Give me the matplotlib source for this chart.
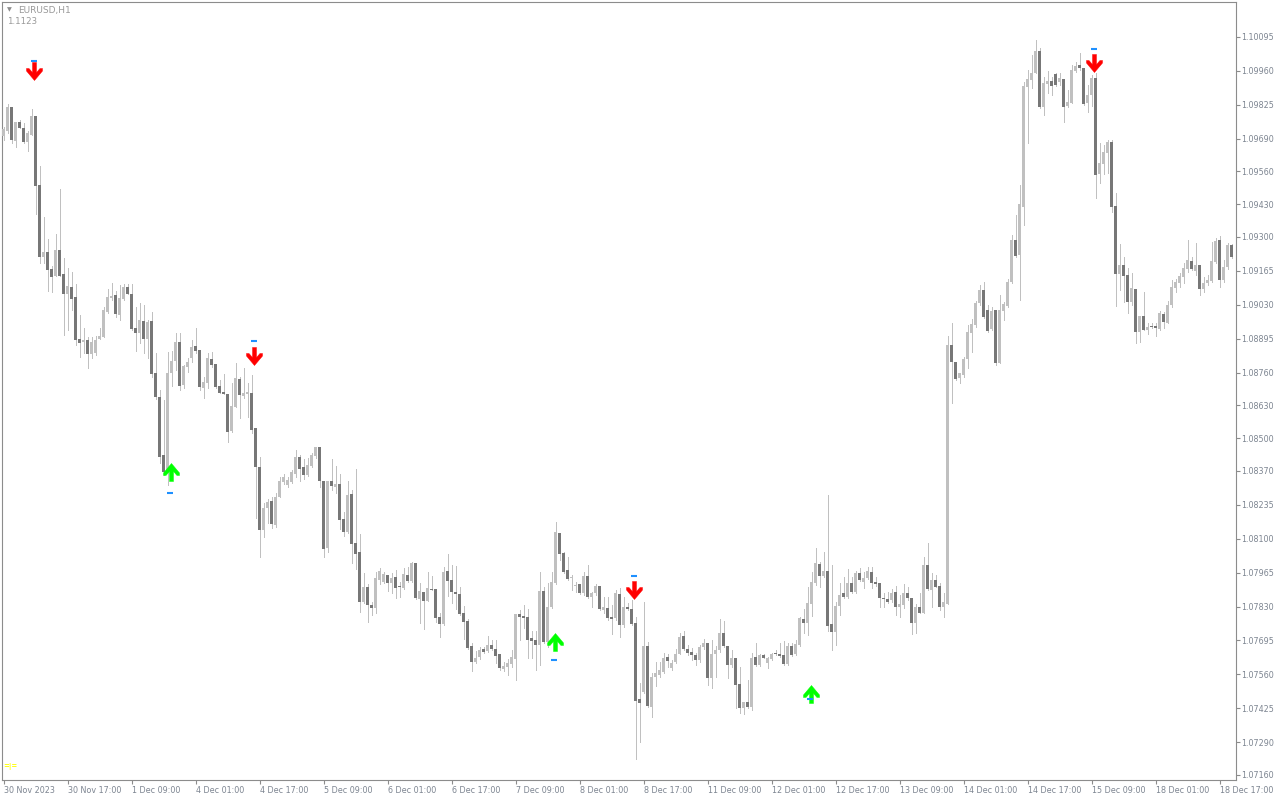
import numpy as np
import matplotlib.pyplot as plt
from matplotlib.path import Path

plt.rcParams['font.family'] = ['DejaVu Sans']

# EURUSD H1, one candle per hour from 30 Nov 2023
opens = [
    1.09701, 1.09721, 1.09816, 1.09681, 1.09757, 1.09733, 1.09677, 1.09705, 1.09781, 1.09506,
    1.09220, 1.09240, 1.09172, 1.09144, 1.09248, 1.09152, 1.09073, 1.09101, 1.09061, 1.08894,
    1.08882, 1.08890, 1.08834, 1.08838, 1.08894, 1.08902, 1.09001, 1.09057, 1.09069, 1.08989,
    1.09053, 1.09101, 1.09073, 1.08938, 1.08918, 1.08965, 1.08894, 1.08965, 1.08759, 1.08663,
    1.08432, 1.08373, 1.08759, 1.08806, 1.08882, 1.08711, 1.08782, 1.08818, 1.08866, 1.08850,
    1.08699, 1.08719, 1.08814, 1.08794, 1.08707, 1.08683, 1.08675, 1.08528, 1.08623, 1.08735,
    1.08667, 1.08675, 1.08679, 1.08540, 1.08385, 1.08134, 1.08222, 1.08250, 1.08154, 1.08265,
    1.08325, 1.08313, 1.08325, 1.08357, 1.08425, 1.08385, 1.08353, 1.08389, 1.08428, 1.08464,
    1.08329, 1.08063, 1.08329, 1.08305, 1.08317, 1.08178, 1.08126, 1.08277, 1.08082, 1.08047,
    1.07848, 1.07908, 1.07836, 1.07824, 1.07935, 1.07927, 1.07955, 1.07923, 1.07947, 1.07911,
    1.07904, 1.07955, 1.07931, 1.08003, 1.07860, 1.07888, 1.07852, 1.07900, 1.07900, 1.07788,
    1.07760, 1.07971, 1.07935, 1.07888, 1.07880, 1.07804, 1.07772, 1.07673, 1.07609, 1.07629,
    1.07661, 1.07653, 1.07677, 1.07661, 1.07641, 1.07581, 1.07589, 1.07601, 1.07621, 1.07800,
    1.07792, 1.07788, 1.07705, 1.07697, 1.07677, 1.07892, 1.07689, 1.07828, 1.07923, 1.08122,
    1.08043, 1.07975, 1.07943, 1.07911, 1.07919, 1.07884, 1.07951, 1.07868, 1.07884, 1.07911,
    1.07816, 1.07824, 1.07788, 1.07784, 1.07880, 1.07756, 1.07828, 1.07820, 1.07764, 1.07462,
    1.07490, 1.07673, 1.07430, 1.07549, 1.07558, 1.07569, 1.07629, 1.07585, 1.07609, 1.07641,
    1.07713, 1.07661, 1.07649, 1.07637, 1.07617, 1.07669, 1.07685, 1.07546, 1.07641, 1.07657,
    1.07725, 1.07673, 1.07597, 1.07625, 1.07522, 1.07426, 1.07450, 1.07430, 1.07629, 1.07597,
    1.07637, 1.07605, 1.07621, 1.07645, 1.07641, 1.07637, 1.07601, 1.07673, 1.07641, 1.07677,
    1.07780, 1.07764, 1.07840, 1.07923, 1.07999, 1.07951, 1.07971, 1.07760, 1.07729, 1.07832,
    1.07884, 1.07868, 1.07923, 1.07888, 1.07963, 1.07927, 1.07943, 1.07967, 1.07927, 1.07923,
    1.07864, 1.07860, 1.07856, 1.07888, 1.07828, 1.07836, 1.07884, 1.07864, 1.07764, 1.07828,
    1.07804, 1.07995, 1.07896, 1.07935, 1.07911, 1.07828, 1.07840, 1.08870, 1.08802, 1.08739,
    1.08751, 1.08814, 1.08918, 1.08949, 1.09037, 1.09089, 1.09009, 1.08934, 1.09009, 1.08798,
    1.09005, 1.09025, 1.09120, 1.09288, 1.09228, 1.09419, 1.09896, 1.09924, 1.09952, 1.10039,
    1.09816, 1.09908, 1.09920, 1.09948, 1.09916, 1.09928, 1.09820, 1.09832, 1.09960, 1.09983,
    1.09972, 1.09832, 1.09864, 1.09932, 1.09550, 1.09590, 1.09634, 1.09677, 1.09423, 1.09152,
    1.09188, 1.09148, 1.09041, 1.09093, 1.08922, 1.08985, 1.08930, 1.08945, 1.08945, 1.08934,
    1.08993, 1.08957, 1.09029, 1.09097, 1.09117, 1.09140, 1.09172, 1.09204, 1.09164, 1.09188,
    1.09093, 1.09117, 1.09124, 1.09200, 1.09288, 1.09128, 1.09180, 1.09268,
]
highs = [
    1.09737, 1.09828, 1.09816, 1.09757, 1.09765, 1.09753, 1.09721, 1.09809, 1.09781, 1.09582,
    1.09379, 1.09291, 1.09184, 1.09311, 1.09490, 1.09216, 1.09176, 1.09160, 1.09113, 1.08989,
    1.08938, 1.08902, 1.08902, 1.08906, 1.08938, 1.09021, 1.09093, 1.09117, 1.09085, 1.09109,
    1.09113, 1.09113, 1.09113, 1.09021, 1.09037, 1.09029, 1.08969, 1.09001, 1.08838, 1.08691,
    1.08651, 1.08842, 1.08846, 1.08918, 1.08918, 1.08790, 1.08818, 1.08890, 1.08938, 1.08850,
    1.08743, 1.08838, 1.08842, 1.08794, 1.08731, 1.08755, 1.08675, 1.08719, 1.08798, 1.08743,
    1.08778, 1.08719, 1.08751, 1.08540, 1.08425, 1.08242, 1.08257, 1.08265, 1.08281, 1.08345,
    1.08357, 1.08345, 1.08373, 1.08452, 1.08432, 1.08417, 1.08421, 1.08440, 1.08464, 1.08464,
    1.08329, 1.08329, 1.08417, 1.08389, 1.08357, 1.08206, 1.08329, 1.08293, 1.08377, 1.08118,
    1.07963, 1.07919, 1.07848, 1.07967, 1.07983, 1.07967, 1.07955, 1.07963, 1.07975, 1.07927,
    1.07983, 1.07987, 1.08007, 1.08003, 1.07923, 1.07888, 1.07967, 1.07951, 1.07900, 1.07804,
    1.07987, 1.08039, 1.07995, 1.07991, 1.07908, 1.07832, 1.07780, 1.07685, 1.07653, 1.07669,
    1.07669, 1.07713, 1.07697, 1.07697, 1.07641, 1.07609, 1.07621, 1.07657, 1.07800, 1.07816,
    1.07836, 1.07820, 1.07733, 1.07733, 1.07967, 1.07908, 1.07923, 1.07967, 1.08166, 1.08122,
    1.08047, 1.08027, 1.07955, 1.07927, 1.07919, 1.07967, 1.07995, 1.07888, 1.07919, 1.07911,
    1.07868, 1.07868, 1.07836, 1.07896, 1.07904, 1.07868, 1.07844, 1.07856, 1.07788, 1.07526,
    1.07848, 1.07689, 1.07565, 1.07609, 1.07609, 1.07645, 1.07641, 1.07617, 1.07661, 1.07725,
    1.07733, 1.07677, 1.07665, 1.07645, 1.07677, 1.07701, 1.07685, 1.07697, 1.07673, 1.07780,
    1.07772, 1.07673, 1.07657, 1.07625, 1.07589, 1.07450, 1.07538, 1.07645, 1.07685, 1.07641,
    1.07641, 1.07629, 1.07645, 1.07657, 1.07685, 1.07693, 1.07685, 1.07685, 1.07697, 1.07788,
    1.07820, 1.07908, 1.07967, 1.08063, 1.08007, 1.08047, 1.08273, 1.07995, 1.07848, 1.07923,
    1.07947, 1.07979, 1.07947, 1.07971, 1.07983, 1.07967, 1.07987, 1.07987, 1.07947, 1.07923,
    1.07884, 1.07888, 1.07900, 1.07911, 1.07876, 1.07919, 1.07908, 1.07864, 1.07840, 1.07884,
    1.08027, 1.08083, 1.07963, 1.07955, 1.07923, 1.07884, 1.08906, 1.08957, 1.08802, 1.08759,
    1.08822, 1.08949, 1.08973, 1.09045, 1.09109, 1.09120, 1.09029, 1.09021, 1.09009, 1.09069,
    1.09041, 1.09132, 1.09307, 1.09387, 1.09506, 1.09916, 1.09964, 1.10023, 1.10083, 1.10051,
    1.09936, 1.09960, 1.09936, 1.09952, 1.09952, 1.09928, 1.09884, 1.09983, 1.09995, 1.10031,
    1.09972, 1.09904, 1.09944, 1.09952, 1.09673, 1.09665, 1.09685, 1.09685, 1.09474, 1.09272,
    1.09220, 1.09176, 1.09156, 1.09093, 1.08985, 1.09081, 1.08957, 1.08957, 1.08957, 1.09005,
    1.09001, 1.09045, 1.09128, 1.09132, 1.09156, 1.09196, 1.09288, 1.09220, 1.09276, 1.09188,
    1.09140, 1.09148, 1.09280, 1.09295, 1.09303, 1.09208, 1.09276, 1.09272,
]
lows = [
    1.09685, 1.09713, 1.09673, 1.09657, 1.09733, 1.09673, 1.09641, 1.09705, 1.09391, 1.09196,
    1.09196, 1.09085, 1.09081, 1.09144, 1.09144, 1.08910, 1.08930, 1.09009, 1.08870, 1.08822,
    1.08838, 1.08778, 1.08818, 1.08830, 1.08894, 1.08902, 1.08997, 1.09049, 1.08981, 1.08969,
    1.09049, 1.09073, 1.08930, 1.08846, 1.08878, 1.08838, 1.08818, 1.08743, 1.08655, 1.08401,
    1.08353, 1.08313, 1.08707, 1.08771, 1.08691, 1.08699, 1.08763, 1.08802, 1.08838, 1.08691,
    1.08659, 1.08699, 1.08782, 1.08699, 1.08679, 1.08675, 1.08484, 1.08524, 1.08623, 1.08580,
    1.08659, 1.08584, 1.08520, 1.08182, 1.08027, 1.08106, 1.08162, 1.08142, 1.08146, 1.08265,
    1.08317, 1.08305, 1.08321, 1.08345, 1.08329, 1.08337, 1.08349, 1.08385, 1.08421, 1.08305,
    1.08027, 1.08047, 1.08293, 1.08281, 1.08138, 1.08110, 1.08122, 1.08003, 1.07979, 1.07808,
    1.07844, 1.07768, 1.07796, 1.07804, 1.07919, 1.07923, 1.07892, 1.07884, 1.07864, 1.07868,
    1.07900, 1.07927, 1.07927, 1.07860, 1.07764, 1.07740, 1.07852, 1.07896, 1.07768, 1.07709,
    1.07756, 1.07872, 1.07844, 1.07820, 1.07796, 1.07701, 1.07661, 1.07573, 1.07605, 1.07621,
    1.07645, 1.07649, 1.07657, 1.07605, 1.07577, 1.07573, 1.07558, 1.07589, 1.07538, 1.07697,
    1.07744, 1.07625, 1.07625, 1.07577, 1.07597, 1.07685, 1.07669, 1.07824, 1.07919, 1.08015,
    1.07963, 1.07935, 1.07896, 1.07888, 1.07880, 1.07876, 1.07864, 1.07828, 1.07876, 1.07816,
    1.07804, 1.07776, 1.07721, 1.07776, 1.07709, 1.07748, 1.07816, 1.07756, 1.07223, 1.07291,
    1.07486, 1.07430, 1.07390, 1.07514, 1.07549, 1.07565, 1.07589, 1.07577, 1.07605, 1.07641,
    1.07657, 1.07637, 1.07617, 1.07597, 1.07609, 1.07661, 1.07518, 1.07506, 1.07549, 1.07649,
    1.07669, 1.07546, 1.07589, 1.07426, 1.07406, 1.07402, 1.07426, 1.07418, 1.07593, 1.07593,
    1.07625, 1.07585, 1.07617, 1.07637, 1.07629, 1.07597, 1.07597, 1.07633, 1.07637, 1.07673,
    1.07725, 1.07717, 1.07792, 1.07915, 1.07908, 1.07947, 1.07733, 1.07657, 1.07677, 1.07796,
    1.07864, 1.07864, 1.07884, 1.07884, 1.07931, 1.07904, 1.07939, 1.07904, 1.07911, 1.07828,
    1.07828, 1.07844, 1.07848, 1.07796, 1.07788, 1.07824, 1.07856, 1.07721, 1.07725, 1.07804,
    1.07804, 1.07896, 1.07828, 1.07907, 1.07816, 1.07788, 1.07840, 1.08639, 1.08731, 1.08719,
    1.08743, 1.08778, 1.08842, 1.08942, 1.09029, 1.08977, 1.08922, 1.08930, 1.08790, 1.08798,
    1.08969, 1.09021, 1.09117, 1.09220, 1.09049, 1.09347, 1.09673, 1.09892, 1.09952, 1.09812,
    1.09785, 1.09872, 1.09864, 1.09900, 1.09904, 1.09757, 1.09816, 1.09832, 1.09956, 1.09964,
    1.09824, 1.09797, 1.09820, 1.09455, 1.09514, 1.09550, 1.09554, 1.09399, 1.09025, 1.09089,
    1.09041, 1.08997, 1.09029, 1.08878, 1.08882, 1.08930, 1.08914, 1.08938, 1.08906, 1.08930,
    1.08938, 1.08957, 1.09021, 1.09081, 1.09101, 1.09117, 1.09160, 1.09168, 1.09148, 1.09069,
    1.09081, 1.09109, 1.09120, 1.09196, 1.09101, 1.09120, 1.09172, 1.09216,
]
closes = [
    1.09729, 1.09816, 1.09685, 1.09757, 1.09733, 1.09677, 1.09713, 1.09781, 1.09502, 1.09220,
    1.09240, 1.09168, 1.09140, 1.09248, 1.09144, 1.09073, 1.09105, 1.09053, 1.08890, 1.08878,
    1.08890, 1.08834, 1.08882, 1.08890, 1.08906, 1.09009, 1.09061, 1.09065, 1.08993, 1.09057,
    1.09101, 1.09073, 1.08934, 1.08918, 1.08969, 1.08894, 1.08961, 1.08755, 1.08663, 1.08425,
    1.08365, 1.08759, 1.08806, 1.08882, 1.08707, 1.08786, 1.08802, 1.08862, 1.08846, 1.08703,
    1.08723, 1.08818, 1.08790, 1.08703, 1.08679, 1.08675, 1.08524, 1.08627, 1.08739, 1.08671,
    1.08679, 1.08683, 1.08532, 1.08385, 1.08134, 1.08222, 1.08246, 1.08158, 1.08265, 1.08329,
    1.08345, 1.08333, 1.08365, 1.08425, 1.08377, 1.08353, 1.08393, 1.08432, 1.08464, 1.08329,
    1.08059, 1.08329, 1.08309, 1.08317, 1.08174, 1.08126, 1.08273, 1.08079, 1.08039, 1.07848,
    1.07908, 1.07836, 1.07824, 1.07943, 1.07971, 1.07959, 1.07923, 1.07943, 1.07904, 1.07908,
    1.07959, 1.07931, 1.08003, 1.07864, 1.07892, 1.07852, 1.07904, 1.07896, 1.07784, 1.07760,
    1.07967, 1.07931, 1.07888, 1.07880, 1.07800, 1.07768, 1.07665, 1.07609, 1.07625, 1.07657,
    1.07649, 1.07677, 1.07661, 1.07633, 1.07585, 1.07593, 1.07605, 1.07629, 1.07800, 1.07788,
    1.07784, 1.07697, 1.07693, 1.07677, 1.07892, 1.07689, 1.07828, 1.07927, 1.08126, 1.08039,
    1.07967, 1.07939, 1.07947, 1.07915, 1.07884, 1.07951, 1.07868, 1.07884, 1.07911, 1.07820,
    1.07828, 1.07784, 1.07780, 1.07884, 1.07756, 1.07828, 1.07820, 1.07760, 1.07454, 1.07446,
    1.07673, 1.07434, 1.07549, 1.07565, 1.07577, 1.07625, 1.07613, 1.07605, 1.07641, 1.07709,
    1.07661, 1.07645, 1.07637, 1.07617, 1.07669, 1.07685, 1.07546, 1.07641, 1.07657, 1.07725,
    1.07673, 1.07597, 1.07625, 1.07518, 1.07426, 1.07450, 1.07430, 1.07625, 1.07597, 1.07637,
    1.07625, 1.07625, 1.07641, 1.07641, 1.07633, 1.07601, 1.07673, 1.07637, 1.07681, 1.07784,
    1.07764, 1.07844, 1.07927, 1.08003, 1.07951, 1.07971, 1.07752, 1.07729, 1.07832, 1.07876,
    1.07868, 1.07923, 1.07888, 1.07963, 1.07935, 1.07943, 1.07971, 1.07923, 1.07919, 1.07864,
    1.07860, 1.07848, 1.07884, 1.07828, 1.07840, 1.07884, 1.07864, 1.07764, 1.07828, 1.07804,
    1.07995, 1.07900, 1.07935, 1.07907, 1.07828, 1.07848, 1.08870, 1.08802, 1.08735, 1.08759,
    1.08814, 1.08922, 1.08953, 1.09037, 1.09089, 1.08981, 1.08926, 1.09005, 1.08798, 1.09009,
    1.09033, 1.09120, 1.09288, 1.09224, 1.09431, 1.09900, 1.09928, 1.09952, 1.10039, 1.09816,
    1.09912, 1.09920, 1.09900, 1.09904, 1.09932, 1.09816, 1.09836, 1.09964, 1.09980, 1.09972,
    1.09828, 1.09864, 1.09932, 1.09546, 1.09594, 1.09637, 1.09677, 1.09419, 1.09152, 1.09188,
    1.09144, 1.09041, 1.09097, 1.08922, 1.08985, 1.08930, 1.08942, 1.08942, 1.08938, 1.08997,
    1.08961, 1.09029, 1.09101, 1.09120, 1.09144, 1.09176, 1.09208, 1.09172, 1.09188, 1.09093,
    1.09117, 1.09128, 1.09204, 1.09284, 1.09128, 1.09180, 1.09268, 1.09220,
]

# indicator arrows: bar index, arrow level and the small blue mark
sell_bars = [7, 62, 157, 272]
sell_arrow = [1.09958, 1.08826, 1.07896, 1.09993]
sell_mark = [1.09999, 1.08886, 1.07951, 1.10047]
buy_bars = [41, 137, 201]
buy_arrow = [1.08363, 1.07687, 1.07484]
buy_mark = [1.08281, 1.07617, 1.07462]

price_ticks = [1.10095, 1.09960, 1.09825, 1.09690, 1.09560, 1.09430, 1.09300, 1.09165,
               1.09030, 1.08895, 1.08760, 1.08630, 1.08500, 1.08370, 1.08235, 1.08100,
               1.07965, 1.07830, 1.07695, 1.07560, 1.07425, 1.07290, 1.07160]
time_labels = ['30 Nov 2023', '30 Nov 17:00', '1 Dec 09:00', '4 Dec 01:00', '4 Dec 17:00',
               '5 Dec 09:00', '6 Dec 01:00', '6 Dec 17:00', '7 Dec 09:00', '8 Dec 01:00',
               '8 Dec 17:00', '11 Dec 09:00', '12 Dec 01:00', '12 Dec 17:00', '13 Dec 09:00',
               '14 Dec 01:00', '14 Dec 17:00', '15 Dec 09:00', '18 Dec 01:00', '18 Dec 17:00']

LIGHT = '#c0c0c0'
DARK = '#777777'
FRAME = '#8c8c8c'
TXT = '#7d8591'

o = np.array(opens)
h = np.array(highs)
l = np.array(lows)
c = np.array(closes)
x = np.arange(len(c))
up = c >= o

fig = plt.figure(figsize=(12.8, 8), dpi=100)
fig.patch.set_facecolor('white')
ax = fig.add_axes([2 / 1280, 20 / 800, 1234 / 1280, 778 / 800])
ax.set_facecolor('white')

# wicks then bodies (a doji still gets one pixel)
ax.vlines(x, l, h, color=LIGHT, lw=0.7, antialiased=False, zorder=2)
bottom = np.minimum(o, c)
height = np.maximum(np.abs(c - o), 0.00004)
ax.bar(x[up], height[up], bottom=bottom[up], width=0.72, color=LIGHT,
       lw=0, antialiased=False, zorder=3)
ax.bar(x[~up], height[~up], bottom=bottom[~up], width=0.72, color=DARK,
       lw=0, antialiased=False, zorder=3)

# thick arrow markers like the MT4 wingdings arrows
down_verts = [(-2, 9), (2, 9), (2, -1), (5.5, 3), (8, 3), (8, 0.5), (0, -9),
              (-8, 0.5), (-8, 3), (-5.5, 3), (-2, -1), (-2, 9)]
down_arrow = Path(down_verts, closed=True)
up_arrow = Path([(vx, -vy) for vx, vy in down_verts], closed=True)

sx = np.array(sell_bars) + 0.65
bx = np.array(buy_bars) + 0.8
ax.plot(sx, sell_arrow, ls='none', marker=down_arrow, ms=13, mfc='#ff0000',
        mec='#ff0000', mew=0.3, zorder=5)
ax.plot(bx, buy_arrow, ls='none', marker=up_arrow, ms=13, mfc='#00ff00',
        mec='#00ff00', mew=0.3, zorder=5)
ax.plot(np.array(sell_bars) + 0.5, sell_mark, ls='none', marker='_', ms=3.8,
        mew=1.5, color='#1e90ff', zorder=6)
ax.plot(np.array(buy_bars) + 0.5, buy_mark, ls='none', marker='_', ms=3.8,
        mew=1.5, color='#1e90ff', zorder=6)

ax.set_xlim(-0.375, 308.125)
ax.set_ylim(1.071400, 1.102341)

ax.yaxis.tick_right()
ax.set_yticks(price_ticks)
ax.set_yticklabels([f'{p:.5f}' for p in price_ticks])
ax.set_xticks(np.arange(0, len(c), 16))
ax.set_xticklabels(time_labels)
for lbl in ax.get_xticklabels():
    lbl.set_horizontalalignment('left')
ax.tick_params(axis='both', colors=FRAME, labelcolor=TXT, labelsize=5.8,
               length=3, width=0.8, direction='out')
ax.tick_params(axis='x', pad=1.2)
ax.tick_params(axis='y', pad=1.0)
for side in ax.spines.values():
    side.set_color(FRAME)
    side.set_linewidth(0.8)

fig.text(7 / 1280, 1 - 10 / 800, '\u25bc', color='#8c8c8c', fontsize=4.5,
         va='center', ha='left')
fig.text(18 / 1280, 1 - 10 / 800, 'EURUSD,H1', color='#999999', fontsize=6.5,
         va='center', ha='left')
fig.text(7 / 1280, 1 - 22 / 800, '1.1123', color='#999999', fontsize=6.2,
         va='center', ha='left')
fig.text(3 / 1280, 1 - 766 / 800, '=|=', color='#ffff00', fontsize=5,
         va='center', ha='left', fontweight='bold')

fig.savefig('out.png', dpi=100, facecolor='white')
